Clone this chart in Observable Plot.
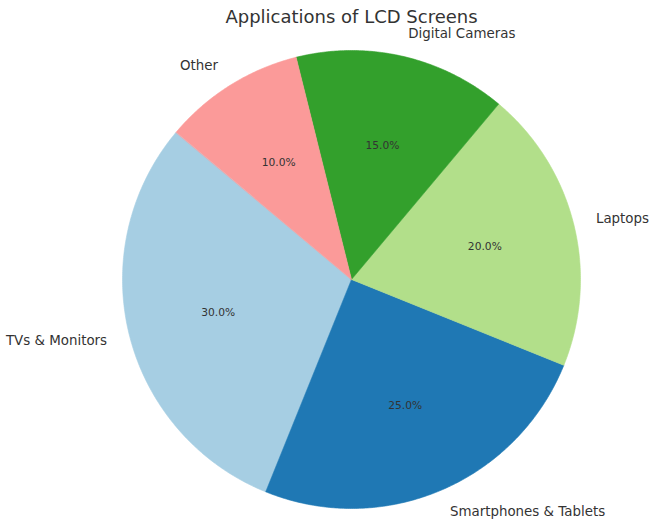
<!DOCTYPE html>
<html><head><meta charset="utf-8">
<script src="https://cdn.jsdelivr.net/npm/d3@7"></script>
<script src="https://cdn.jsdelivr.net/npm/@observablehq/plot@0.6"></script>
<style>body{margin:0;background:#fff} #chart svg{display:block}</style>
</head><body><div id="chart"></div>
<script>
const categories = ["TVs & Monitors", "Smartphones & Tablets", "Laptops", "Digital Cameras", "Other"];
const values = [30, 25, 20, 15, 10];
const colors = ["#a6cee3", "#1f78b4", "#b2df8a", "#33a02c", "#fb9a99"];
const title = "Applications of LCD Screens";

const W = 655, H = 526, cx = 351, cy = 279, R = 229;
const startAngle = 140;
const total = d3.sum(values);
const rad = d => d * Math.PI / 180;
let acc = startAngle;
const slices = categories.map((c, i) => {
  const a0 = acc, a1 = acc + values[i] / total * 360;
  acc = a1;
  return {c, v: values[i], color: colors[i], a0, a1, mid: (a0 + a1) / 2};
});

const marks = [];
slices.forEach(s => {
  const pts = [{x: 0, y: 0}];
  const n = Math.max(2, Math.ceil((s.a1 - s.a0) / 0.5));
  for (let k = 0; k <= n; k++) {
    const a = rad(s.a0 + (s.a1 - s.a0) * k / n);
    pts.push({x: Math.cos(a), y: Math.sin(a)});
  }
  marks.push(Plot.line(pts, {x: "x", y: "y", curve: "linear-closed", fill: s.color, stroke: s.color, strokeWidth: 0.6}));
});

const lab = slices.map(s => ({x: 1.1 * Math.cos(rad(s.mid)), y: 1.1 * Math.sin(rad(s.mid)), c: s.c}));
const pct = slices.map(s => ({x: 0.6 * Math.cos(rad(s.mid)), y: 0.6 * Math.sin(rad(s.mid)), t: (s.v / total * 100).toFixed(1) + "%"}));
const font = "DejaVu Sans";
marks.push(Plot.text(lab.filter(d => d.x < 0), {x: "x", y: "y", text: "c", textAnchor: "end", fontSize: 13.4, fill: "#333", fontFamily: font}));
marks.push(Plot.text(lab.filter(d => d.x >= 0), {x: "x", y: "y", text: "c", textAnchor: "start", fontSize: 13.4, fill: "#333", fontFamily: font}));
marks.push(Plot.text(pct, {x: "x", y: "y", text: "t", fontSize: 10.7, fill: "#333", fontFamily: font}));
marks.push(Plot.text([{t: title}], {x: () => 0, text: "t", frameAnchor: "top", dy: 10, fontSize: 18, fill: "#333", fontFamily: font}));

const chart = Plot.plot({
  width: W, height: H,
  margin: 0,
  x: {domain: [-cx / R, (W - cx) / R], range: [0, W], axis: null},
  y: {domain: [-(H - cy) / R, cy / R], range: [H, 0], axis: null},
  style: {fontFamily: font, background: "#fff"},
  marks
});
document.getElementById("chart").appendChild(chart);
</script>
</body></html>
